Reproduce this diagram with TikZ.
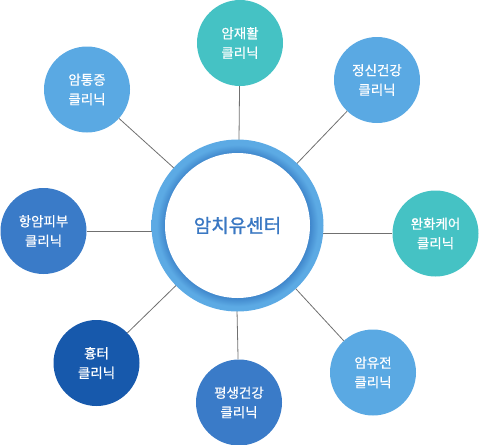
\documentclass[tikz,border=0pt]{standalone}
\usepackage{fontspec}
\newfontfamily\kr[FakeBold=0.6]{Noto Sans CJK KR}
\newfontfamily\krc[FakeBold=1.2]{Noto Sans CJK KR}
\definecolor{teal1}{HTML}{45C2C4}
\definecolor{lblue}{HTML}{5AA9E3}
\definecolor{mblue}{HTML}{3A7BC8}
\definecolor{dblue}{HTML}{1759AC}
\definecolor{ringc}{HTML}{5CAAE4}
\definecolor{ringd}{HTML}{3F86CB}
\definecolor{ctext}{HTML}{3A78C3}
\definecolor{linec}{HTML}{707070}
\pgfdeclareradialshading{ringsh}{\pgfpoint{0bp}{0bp}}{color(0bp)=(ringd); color(21bp)=(ringd); color(23.5bp)=(ringc); color(25bp)=(ringc); color(50bp)=(ringc)}
\begin{document}
\begin{tikzpicture}[x=1pt,y=-1pt,
  sat/.style={circle,minimum size=86pt,inner sep=0pt,text=white,font=\kr\fontsize{13.5}{19.5}\selectfont,align=center},
  conn/.style={draw=linec,line width=0.8pt}]
\useasboundingbox (0,0) rectangle (480,445);
\coordinate (c) at (237.5,225.5);
\node[sat,fill=teal1] (a1) at (240,43) {암재활\\클리닉};
\node[sat,fill=lblue] (a2) at (377,80) {정신건강\\클리닉};
\node[sat,fill=teal1] (a3) at (435.5,233.5) {완화케어\\클리닉};
\node[sat,fill=lblue] (a4) at (373,372.5) {암유전\\클리닉};
\node[sat,fill=mblue] (a5) at (239,402.5) {평생건강\\클리닉};
\node[sat,fill=dblue] (a6) at (96.5,363) {흉터\\클리닉};
\node[sat,fill=mblue] (a7) at (43.5,231) {항암피부\\클리닉};
\node[sat,fill=lblue] (a8) at (87,89.5) {암통증\\클리닉};
\coordinate (t1) at (239,140);
\coordinate (t5) at (237,310);
\coordinate (t3) at (322,233.5);
\coordinate (t7) at (153,231);
\draw[conn] (a1) -- (t1);
\draw[conn] (a5) -- (t5);
\draw[conn] (a3) -- (t3);
\draw[conn] (a7) -- (t7);
\draw[conn] (a2) -- (c);
\draw[conn] (a4) -- (c);
\draw[conn] (a6) -- (c);
\draw[conn] (a8) -- (c);
\shade[shading=ringsh] (c) circle[radius=86];
\fill[white] (c) circle[radius=72.5];
\node[font=\krc\fontsize{19}{21}\selectfont,text=ctext] (ctr) at (c) {암치유센터};
\end{tikzpicture}
\end{document}
